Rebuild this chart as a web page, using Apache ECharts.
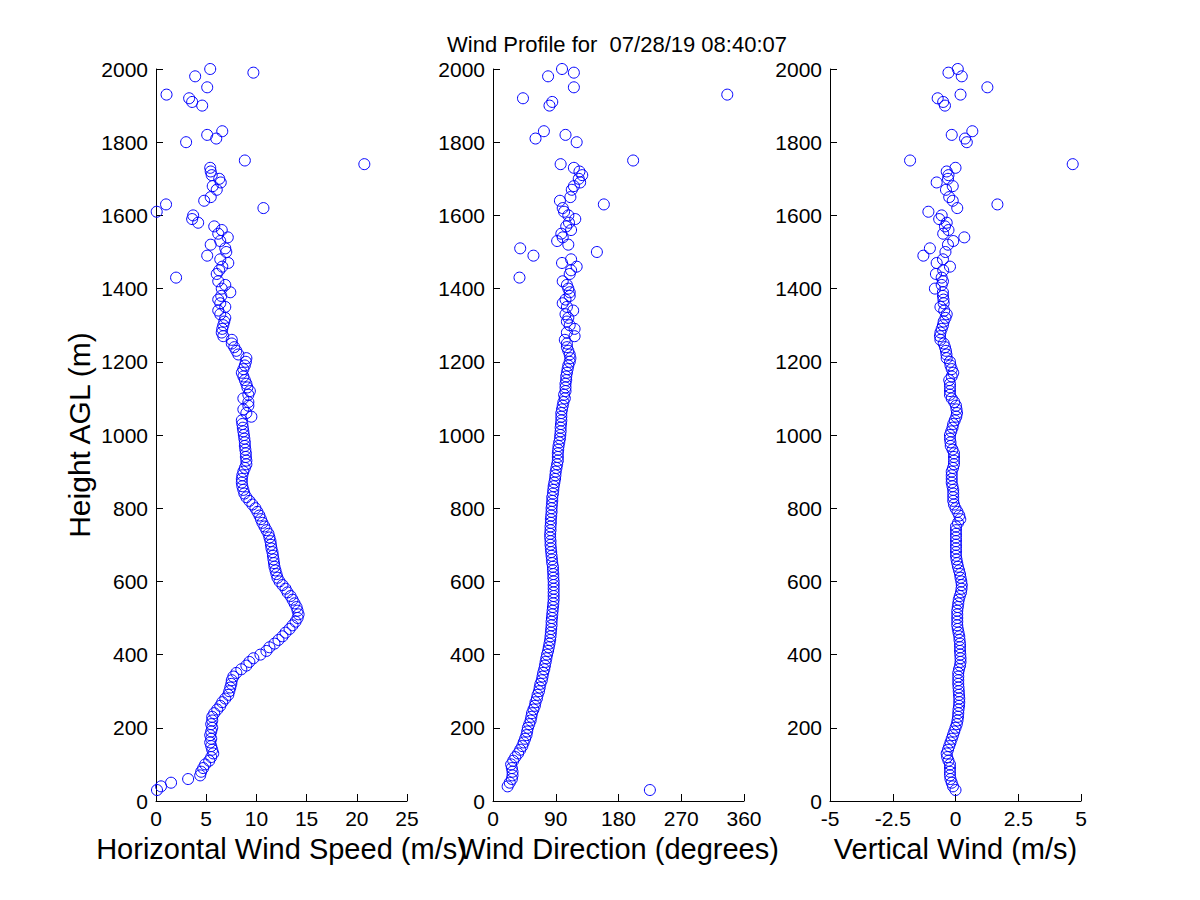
<!DOCTYPE html>
<html>
<head>
<meta charset="utf-8">
<script src="https://cdn.jsdelivr.net/npm/echarts@6/dist/echarts.min.js"></script>
<style>
html,body{margin:0;padding:0;background:#fff;}
#chart{width:1200px;height:900px;}
</style>
</head>
<body>
<div id="chart"></div>
<script>
// Heights (m AGL)
var heights = [
  30,40,50,60,70,80,90,100,110,120,
  130,140,150,160,170,180,190,200,210,220,
  230,240,250,260,270,280,290,300,310,320,
  330,340,350,360,370,380,390,400,410,420,
  430,440,450,460,470,480,490,500,510,520,
  530,540,550,560,570,580,590,600,610,620,
  630,640,650,660,670,680,690,700,710,720,
  730,740,750,760,770,780,790,800,810,820,
  830,840,850,860,870,880,890,900,910,920,
  930,940,950,960,970,980,990,1000,1010,1020,
  1030,1040,1050,1060,1070,1080,1090,1100,1110,1120,
  1130,1140,1150,1160,1170,1180,1190,1200,1210,1220,
  1230,1240,1250,1260,1270,1280,1290,1300,1310,1320,
  1330,1340,1350,1360,1370,1380,1390,1400,1410,1420,
  1430,1440,1450,1460,1470,1480,1490,1500,1510,1520,
  1530,1540,1550,1560,1570,1580,1590,1600,1610,1620,
  1630,1640,1650,1660,1670,1680,1690,1700,1710,1720,
  1730,1740,1750,1760,1770,1780,1790,1800,1810,1820,
  1830,1840,1850,1860,1870,1880,1890,1900,1910,1920,
  1930,1940,1950,1960,1970,1980,1990,2000
];

// Horizontal wind speed (m/s)
var windSpeed = [
  0.1,0.5,1.5,3.2,4.4,4.5,4.7,4.9,5.3,5.5,
  5.7,5.6,5.5,5.4,5.5,5.4,5.5,5.6,5.5,5.6,
  5.6,5.8,6.1,6.4,6.6,6.9,7.2,7.3,7.4,7.5,
  7.55,7.7,8.0,8.5,9.0,9.3,9.7,10.4,11.0,11.3,
  11.8,12.2,12.6,12.9,13.3,13.6,13.9,14.1,14.2,14.1,
  14.0,13.8,13.6,13.4,13.1,12.9,12.6,12.3,12.1,12.0,
  11.9,11.8,11.75,11.7,11.65,11.6,11.5,11.45,11.4,11.3,
  11.2,11.0,10.8,10.6,10.45,10.3,10.1,9.9,9.6,9.3,
  9.0,8.8,8.7,8.6,8.55,8.55,8.6,8.7,8.85,9.0,
  9.0,8.95,8.95,8.9,8.85,8.85,8.8,8.75,8.7,8.65,
  8.6,8.55,9.5,9.0,8.7,9.2,9.2,8.7,9.2,9.35,
  9.1,9.0,8.85,8.7,8.55,8.7,8.85,8.95,9.0,8.2,
  8.0,7.8,7.55,7.55,6.7,6.55,6.6,6.7,6.8,6.9,
  6.4,6.2,6.9,6.4,6.2,6.5,7.4,6.55,6.9,6.2,
  2.0,6.05,6.3,6.6,7.2,6.4,5.1,7.0,6.9,5.45,
  6.4,7.15,6.2,6.55,5.8,4.2,3.6,3.7,0.07,10.7,
  1.0,4.8,5.45,null,6.05,5.65,6.45,6.3,5.55,5.45,
  5.4,20.75,8.85,null,null,null,null,3.0,6.0,5.1,
  6.6,null,null,null,null,null,null,4.6,3.6,3.3,
  1.05,null,5.1,null,null,3.9,9.7,5.4
];

// Wind direction (degrees)
var windDirection = [
  225,21,24,27,28,28,27,26,29,32,
  36,39,42,44,46,48,49,50,52,54,
  55,56,58,60,61,63,64,66,67,68,
  70,71,72,73.5,74.5,75.5,76.5,77.5,79,80,
  81,82,82.5,83,83.5,84,84,84.5,85,85.5,
  86,86.5,87,87,87,87,87,87,86.5,86.5,
  86,86,85,84.5,84,83.5,83,82.5,82.5,82,
  82,82.5,82.5,83,83,83.5,84,84,84.5,85,
  85,86,86.5,87,88,89,89.5,90,91,92,
  93,93,93,93.5,94,95,96,96.5,97,97,
  97.5,98,98,98,99,100,101,103,102,104,
  104,104,105,105,106,107,108,110,111,110,
  108,106,106,103,117,106,117,110,106,108,
  104,115,106,100,104,110,110,108,106,100,
  38,110,112,120,99,112,58,149,39,108,
  92,100,98,112,105,109,118,108,102,100,
  159,96,111,null,113,116,125,123,128,124,
  116,97,201,null,null,null,null,120,61,104,
  73,null,null,null,null,null,null,81,85,43,
  336,null,116,null,null,79,116,99
];

// Vertical wind (m/s)
var verticalWind = [
  0.0,-0.1,-0.15,-0.2,-0.22,-0.22,-0.22,-0.22,-0.28,-0.33,
  -0.35,-0.3,-0.25,-0.2,-0.15,-0.1,-0.05,0.0,0.05,0.08,
  0.1,0.11,0.12,0.14,0.15,0.15,0.14,0.13,0.12,0.11,
  0.11,0.11,0.11,0.14,0.18,0.2,0.2,0.19,0.18,0.18,
  0.18,0.16,0.15,0.12,0.09,0.07,0.07,0.07,0.07,0.07,
  0.09,0.11,0.13,0.17,0.22,0.24,0.25,0.23,0.2,0.18,
  0.14,0.1,0.07,0.04,0.02,0.02,0.02,0.02,0.02,0.02,
  0.02,0.02,0.02,0.1,0.19,0.15,0.08,0.0,-0.06,-0.09,
  -0.09,-0.09,-0.09,-0.12,-0.15,-0.15,-0.15,-0.15,-0.1,-0.06,
  -0.06,-0.06,-0.06,-0.12,-0.19,-0.2,-0.22,-0.22,-0.17,-0.12,
  -0.09,-0.03,0.03,0.06,0.04,0.02,-0.05,-0.15,-0.22,-0.22,
  -0.22,-0.22,-0.25,-0.15,-0.09,-0.15,-0.2,-0.22,-0.35,-0.36,
  -0.38,-0.42,-0.47,-0.6,-0.62,-0.6,-0.55,-0.5,-0.47,-0.4,
  -0.35,-0.45,-0.6,-0.47,-0.48,-0.5,-0.5,-0.82,-0.55,-0.5,
  -0.55,-0.78,-0.49,-0.22,-0.75,-0.5,-1.28,-0.4,-1.02,-0.3,
  -0.09,0.35,-0.49,-0.28,-0.42,-0.35,-0.65,-0.55,-1.08,0.07,
  1.67,-0.11,-0.25,null,-0.38,-0.11,-0.75,-0.3,-0.28,-0.35,
  0.0,4.67,-1.81,null,null,null,null,0.45,0.38,-0.15,
  0.67,null,null,null,null,null,null,-0.42,-0.49,-0.71,
  0.2,null,1.27,null,null,0.25,-0.28,0.09
];

var titleText = 'Wind Profile for  07/28/19 08:40:07';
var xNames = ['Horizontal Wind Speed (m/s)', 'Wind Direction (degrees)', 'Vertical Wind (m/s)'];
var yName = 'Height AGL (m)';
var xRanges = [[0, 25, 5], [0, 360, 90], [-5, 5, 2.5]];
var yRange = [0, 2000, 200];

function pairs(vals) {
  var out = [];
  for (var i = 0; i < heights.length; i++) {
    if (vals[i] !== null && vals[i] !== undefined) out.push([vals[i], heights[i]]);
  }
  return out;
}
function plain(v) { return String(v); }

var FONT = "'Liberation Sans', Arial, Helvetica, sans-serif";
var lefts = [156, 493, 830];
var grids = [], xAxes = [], yAxes = [], series = [];
var seriesData = [windSpeed, windDirection, verticalWind];

for (var k = 0; k < 3; k++) {
  grids.push({left: lefts[k], top: 69, width: 251, height: 732, containLabel: false});
  xAxes.push({
    gridIndex: k, type: 'value',
    min: xRanges[k][0], max: xRanges[k][1], interval: xRanges[k][2],
    name: xNames[k], nameLocation: 'middle', nameGap: 33,
    nameTextStyle: {fontSize: 29, color: '#000', fontFamily: FONT},
    axisLine: {show: true, onZero: false, lineStyle: {color: '#000', width: 1}},
    axisTick: {show: true, inside: true, length: 7, lineStyle: {color: '#000', width: 1}},
    axisLabel: {color: '#000', fontSize: 21, fontFamily: FONT, margin: 7, formatter: plain},
    splitLine: {show: false}
  });
  yAxes.push({
    gridIndex: k, type: 'value',
    min: yRange[0], max: yRange[1], interval: yRange[2],
    name: k === 0 ? yName : '', nameLocation: 'middle', nameGap: 62, nameRotate: 90,
    nameTextStyle: {fontSize: 30, color: '#000', fontFamily: FONT},
    axisLine: {show: true, onZero: false, lineStyle: {color: '#000', width: 1}},
    axisTick: {show: true, inside: true, length: 7, lineStyle: {color: '#000', width: 1}},
    axisLabel: {color: '#000', fontSize: 21, fontFamily: FONT, margin: 8, formatter: plain},
    splitLine: {show: false}
  });
  series.push({
    type: 'scatter', xAxisIndex: k, yAxisIndex: k,
    data: pairs(seriesData[k]),
    symbol: 'circle', symbolSize: 11,
    itemStyle: {color: 'rgba(0,0,0,0)', borderColor: '#0000ff', borderWidth: 1, opacity: 1},
    emphasis: {disabled: true},
    silent: true, clip: false
  });
}

var chart = echarts.init(document.getElementById('chart'), null, {renderer: 'svg', width: 1200, height: 900});
chart.setOption({
  backgroundColor: '#fff',
  animation: false,
  title: {
    text: titleText, left: 612, top: 28, textAlign: 'center',
    textStyle: {fontSize: 22, fontWeight: 'normal', color: '#000', fontFamily: FONT}
  },
  grid: grids,
  xAxis: xAxes,
  yAxis: yAxes,
  series: series
});
</script>
</body>
</html>
